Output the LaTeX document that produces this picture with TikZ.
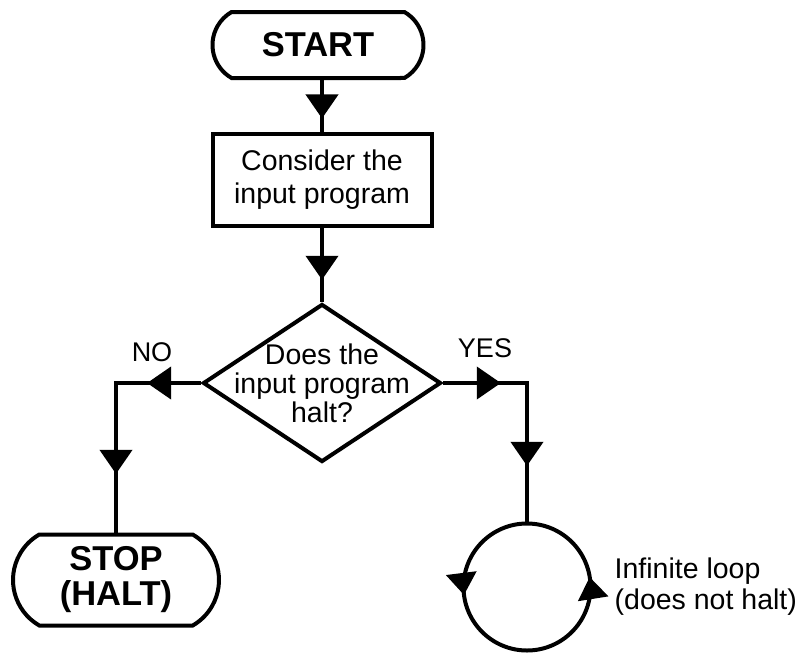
\documentclass[tikz,border=0pt]{standalone}
\usepackage{fontspec}
\setmainfont{Liberation Sans}
\usetikzlibrary{shapes.geometric,shapes.misc,arrows.meta,decorations.markings,positioning}

\tikzset{
  lbl/.style={font=\fontsize{28.5}{33}\selectfont, inner sep=2pt},
  terminal/.style={draw, line width=4pt, rounded rectangle, rounded rectangle arc length=120,
    font=\fontsize{34.5}{35}\selectfont\bfseries, align=center, inner sep=0pt},
  process/.style={draw, line width=4pt, rectangle, align=center, font=\fontsize{28.5}{33}\selectfont},
  decision/.style={draw, line width=4pt, diamond, inner sep=0pt, minimum width=238pt, minimum height=158pt},
  midtip/.tip={Triangle[width=32pt,length=24pt]},
  looptip/.tip={Triangle[width=30pt,length=22pt]},
  flow/.style={line width=4pt, postaction={decorate},
    decoration={markings, mark=at position #1 with {\arrow{midtip}}}},
  flowtwo/.style 2 args={line width=4pt, postaction={decorate},
    decoration={markings, mark=at position #1 with {\arrow{midtip}}, mark=at position #2 with {\arrow{midtip}}}},
  cycle/.style={circle, draw, line width=4pt, postaction={decorate},
    decoration={markings, mark=at position 0.025 with {\arrow{looptip}}, mark=at position 0.52 with {\arrow{looptip}}}},
}

\begin{document}
\begin{tikzpicture}[x=1pt,y=-1pt]
\path[use as bounding box] (0,0) rectangle (804,654);
% boxes
\node[terminal, minimum width=211pt, minimum height=66pt] (start) at (318,45) {START};
\node[process, minimum width=219pt, minimum height=92pt] (consider) at (322,180) {Consider the\\input program};
\node[decision] (halt) at (322,383) {};
\node[lbl, align=center, font=\fontsize{28.5}{29}\selectfont] (haltq) at (halt.center) {Does the\\input program\\halt?};
\node[terminal, minimum width=206pt, minimum height=91pt] (stop) at (116,580) {STOP\\(HALT)};
\node[cycle, minimum size=127pt] (loop) at (527,587) {};
\node[lbl, align=left, right=20pt of loop, font=\fontsize{28.5}{31}\selectfont] (looptext) {Infinite loop\\(does not halt)};
% branch labels
\node[lbl, font=\fontsize{27}{27}\selectfont] (nolab) at (152,352) {NO};
\node[lbl, font=\fontsize{27}{27}\selectfont] (yeslab) at (485,348) {YES};
% connectors
\draw[flow=0.74] (start.south -| consider.north) -- (consider.north);
\draw[flow=0.70] (consider.south) -- (halt.north);
\draw[flowtwo={0.23}{0.75}] (halt.west) -| (stop.north);
\draw[flowtwo={0.26}{0.75}] (halt.east) -| (loop.north);
\end{tikzpicture}
\end{document}
